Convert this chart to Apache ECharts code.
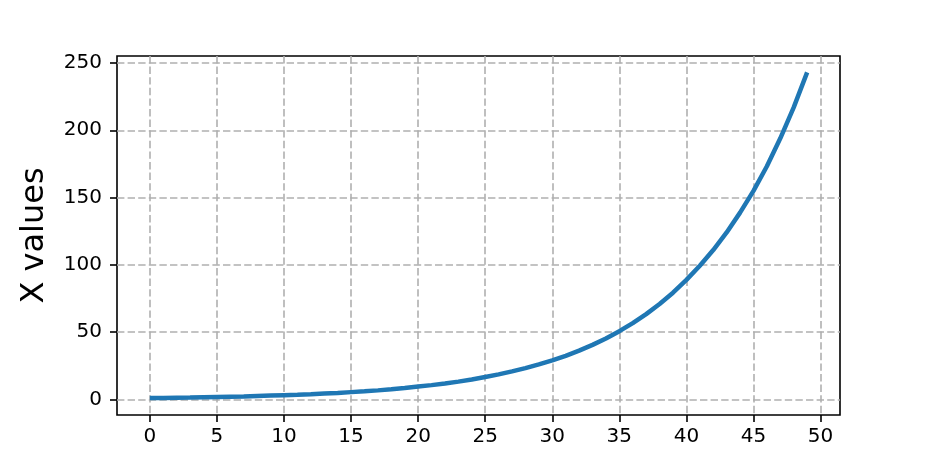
<!DOCTYPE html>
<html>
<head>
<meta charset="utf-8">
<script src="https://cdn.jsdelivr.net/npm/echarts@6/dist/echarts.min.js"></script>
<style>
html, body { margin: 0; padding: 0; background: #fff; }
#chart { width: 934px; height: 467px; }
</style>
</head>
<body>
<div id="chart"></div>
<script>
// x positions and values
var xValues = [0, 1, 2, 3, 4, 5, 6, 7, 8, 9,
	10, 11, 12, 13, 14, 15, 16, 17, 18, 19,
	20, 21, 22, 23, 24, 25, 26, 27, 28, 29,
	30, 31, 32, 33, 34, 35, 36, 37, 38, 39,
	40, 41, 42, 43, 44, 45, 46, 47, 48, 49];
var yValues = [1.0, 1.1, 1.3, 1.4, 1.6, 1.8, 2.0, 2.2, 2.5, 2.8,
	3.1, 3.4, 3.8, 4.3, 4.8, 5.4, 6.0, 6.7, 7.5, 8.4,
	9.5, 10.6, 11.8, 13.2, 14.8, 16.6, 18.6, 20.8, 23.2, 26.0,
	29.0, 32.4, 36.2, 40.5, 45.3, 50.7, 56.7, 63.4, 70.9, 79.3,
	88.8, 99.3, 111.0, 124.1, 138.8, 155.0, 173.3, 194.0, 217.0, 243.0];
var xTicks = [0, 5, 10, 15, 20, 25, 30, 35, 40, 45, 50];
var yTicks = [0, 50, 100, 150, 200, 250];
var yName = 'X values';

var lineData = [];
for (var i = 0; i < xValues.length; i++) {
	lineData.push([xValues[i], yValues[i]]);
}

var chart = echarts.init(document.getElementById('chart'));

var gridLine = {
	show: true,
	lineStyle: { color: '#b0b0b0', width: 1.6, type: [7.4, 3.2] }
};

var option = {
	animation: false,
	textStyle: { fontFamily: 'DejaVu Sans' },
	grid: {
		left: 117,
		right: 94,
		top: 56,
		bottom: 52,
		containLabel: false,
		outerBoundsMode: 'none',
		show: true,
		borderColor: '#000',
		borderWidth: 1.6,
		backgroundColor: 'transparent'
	},
	xAxis: {
		type: 'value',
		min: -2.45,
		max: 51.45,
		axisLine: { show: false, onZero: false },
		axisTick: { show: true, length: 7, customValues: xTicks, lineStyle: { color: '#000', width: 1.6 } },
		axisLabel: { customValues: xTicks, color: '#000', fontSize: 20, margin: 12 },
		splitLine: gridLine
	},
	yAxis: {
		type: 'value',
		min: -11.6,
		max: 255.2,
		name: yName,
		nameLocation: 'middle',
		nameGap: 66,
		nameTextStyle: { color: '#000', fontSize: 32 },
		axisLine: { show: false, onZero: false },
		axisTick: { show: true, length: 7, customValues: yTicks, lineStyle: { color: '#000', width: 1.6 } },
		axisLabel: { customValues: yTicks, color: '#000', fontSize: 20, margin: 15 },
		splitLine: gridLine
	},
	series: [{
		type: 'line',
		data: lineData,
		showSymbol: false,
		smooth: false,
		lineStyle: { color: '#1f77b4', width: 4.5 },
		itemStyle: { color: '#1f77b4' }
	}]
};

chart.setOption(option);
</script>
</body>
</html>
